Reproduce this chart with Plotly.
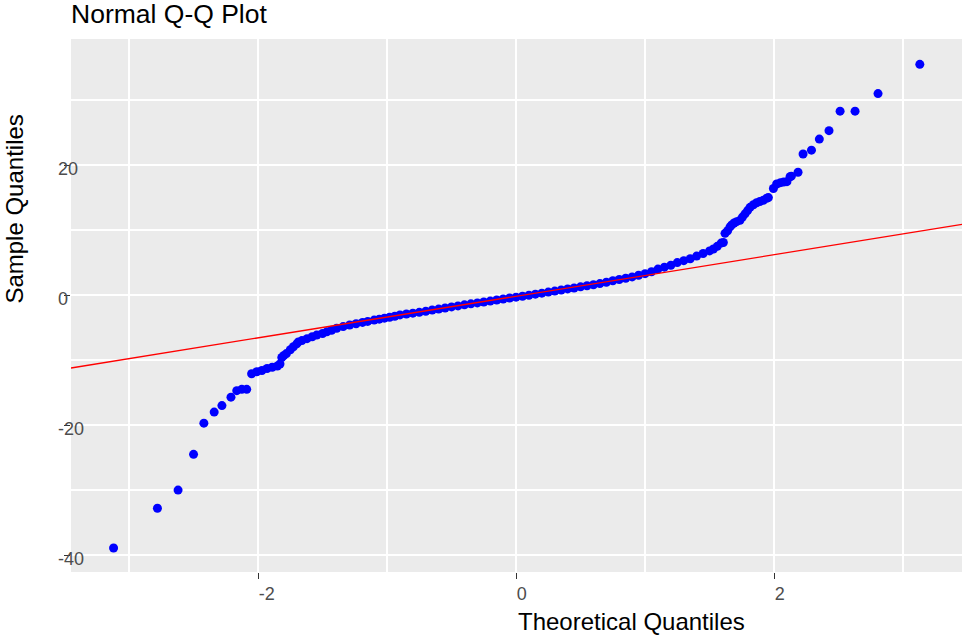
import plotly.graph_objects as go

# Points (theoretical quantile, sample quantile)
theoretical = [
    -3.12, -2.78, -2.62, -2.50, -2.42, -2.34, -2.28, -2.21, -2.165, -2.126, -2.088,
    -2.05, -2.01, -1.97, -1.93, -1.89, -1.85, -1.83, -1.816, -1.80, -1.78, -1.75,
    -1.726, -1.70, -1.687, -1.66, -1.62, -1.58, -1.545, -1.50, -1.467, -1.43, -1.39,
    -1.34, -1.29, -1.24, -1.19, -1.15, -1.10, -1.06, -1.02, -0.98, -0.94, -0.90,
    -0.85, -0.80, -0.75, -0.70, -0.65, -0.60, -0.55, -0.50, -0.45, -0.40, -0.35,
    -0.30, -0.25, -0.20, -0.15, -0.10, -0.05, 0.00, 0.05, 0.10, 0.15, 0.20, 0.25,
    0.30, 0.35, 0.40, 0.45, 0.50, 0.55, 0.60, 0.65, 0.70, 0.75, 0.80, 0.85, 0.90,
    0.95, 1.00, 1.05, 1.10, 1.15, 1.20, 1.25, 1.30, 1.35, 1.40, 1.45, 1.50, 1.53,
    1.56, 1.59, 1.607, 1.62, 1.64, 1.659, 1.672, 1.69, 1.71, 1.736, 1.755, 1.775,
    1.795, 1.814, 1.84, 1.865, 1.89, 1.917, 1.943, 1.956, 1.995, 2.02, 2.05, 2.075,
    2.10, 2.124, 2.134, 2.186, 2.225, 2.29, 2.351, 2.426, 2.512, 2.628, 2.806, 3.13,
]
sample = [
    -38.9, -32.8, -30.0, -24.5, -19.7, -18.0, -17.0, -15.7, -14.7, -14.5, -14.5,
    -12.1, -11.8, -11.6, -11.3, -11.1, -10.9, -10.6, -9.6, -9.3, -9.0, -8.4,
    -7.95, -7.5, -7.2, -7.0, -6.7, -6.4, -6.15, -5.9, -5.65, -5.4, -5.1,
    -4.85, -4.6, -4.4, -4.2, -4.05, -3.85, -3.7, -3.55, -3.4, -3.25, -3.05,
    -2.9, -2.78, -2.65, -2.5, -2.3, -2.15, -1.98, -1.82, -1.66, -1.5, -1.35,
    -1.2, -1.06, -0.92, -0.76, -0.6, -0.45, -0.32, -0.17, -0.02, 0.14, 0.3, 0.46,
    0.62, 0.78, 0.95, 1.1, 1.27, 1.43, 1.6, 1.77, 1.98, 2.2, 2.4, 2.6, 2.8,
    3.05, 3.3, 3.6, 4.0, 4.3, 4.6, 5.0, 5.3, 5.6, 6.0, 6.4, 6.8, 7.1,
    7.5, 8.0, 8.1, 9.5, 9.9, 10.5, 10.8, 11.1, 11.3, 11.5, 12.0, 12.5,
    13.0, 13.5, 13.9, 14.2, 14.4, 14.6, 14.9, 15.0, 16.4, 17.1, 17.3, 17.4,
    17.45, 18.2, 18.3, 18.9, 21.7, 22.3, 24.0, 25.3, 28.3, 28.3, 31.0, 35.5,
]

# Reference line (intercept, slope)
line_intercept = -0.18
line_slope = 3.2

x_range = [-3.45, 3.457]
y_range = [-42.6, 39.4]
x_ticks = [-2, 0, 2]
x_minor = [-3, -1, 1, 3]
y_ticks = [-40, -20, 0, 20]
y_minor = [-30, -10, 10, 30]

FONT = "Liberation Sans, Arial, Helvetica, sans-serif"

fig = go.Figure()
fig.add_trace(go.Scatter(
    x=theoretical, y=sample, mode="markers",
    marker=dict(color="#0000FF", size=9, line=dict(width=0)),
    showlegend=False, hoverinfo="x+y",
))
fig.add_trace(go.Scatter(
    x=x_range, y=[line_intercept + line_slope * v for v in x_range],
    mode="lines", line=dict(color="#FF0000", width=1.3),
    showlegend=False, hoverinfo="skip",
))

fig.update_layout(
    width=962, height=635,
    margin=dict(l=71, r=0, t=39, b=63),
    paper_bgcolor="white", plot_bgcolor="#EBEBEB",
    font=dict(family=FONT, color="#4D4D4D"),
    title=dict(text="Normal Q-Q Plot", x=71 / 962, xanchor="left",
               y=1 - 14 / 635, yanchor="middle", yref="container",
               font=dict(size=26.5, color="black", family=FONT)),
    xaxis=dict(range=x_range, tickmode="array", tickvals=x_ticks,
               ticktext=[str(v) for v in x_ticks],
               showgrid=True, gridcolor="white", gridwidth=1.6,
               zeroline=False, showline=False,
               ticks="outside", ticklen=6, tickwidth=1.2, tickcolor="#333333",
               ticklabelposition="outside right", ticklabelstandoff=5,
               tickfont=dict(size=18, color="#4D4D4D"),
               minor=dict(tickvals=x_minor, showgrid=True, gridcolor="white",
                          gridwidth=1.6, ticks="")),
    yaxis=dict(range=y_range, tickmode="array", tickvals=y_ticks,
               ticktext=[str(v) for v in y_ticks],
               showgrid=True, gridcolor="white", gridwidth=1.6,
               zeroline=False, showline=False,
               ticks="outside", ticklen=6, tickwidth=1.2, tickcolor="#333333",
               ticklabelposition="inside", ticklabelstandoff=-16,
               ticklabelshift=4,
               tickfont=dict(size=18, color="#4D4D4D"),
               minor=dict(tickvals=y_minor, showgrid=True, gridcolor="white",
                          gridwidth=1.6, ticks="")),
    annotations=[
        dict(text="Theoretical Quantiles", xref="x", x=0, xanchor="left",
             yref="paper", y=-(621 - 572) / 533, yanchor="middle",
             showarrow=False, font=dict(size=24, color="black", family=FONT)),
        dict(text="Sample Quantiles", textangle=-90, xref="paper",
             x=(15 - 71) / 891, xanchor="center", yref="y", y=0,
             yanchor="bottom", yshift=-11,
             showarrow=False, font=dict(size=24, color="black", family=FONT)),
    ],
)

fig.write_html("out.html", config={"displayModeBar": False},
               post_script="document.body.style.margin='0';document.body.style.overflow='hidden';")
